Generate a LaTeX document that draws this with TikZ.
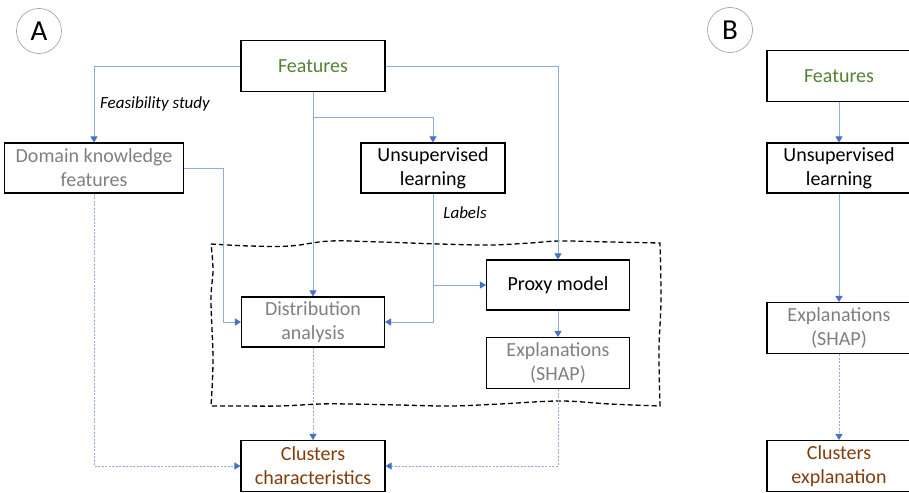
\documentclass[tikz,border=0pt]{standalone}
\usepackage{fontspec}
\setmainfont{Carlito}
\usetikzlibrary{arrows.meta}
\definecolor{lineblue}{RGB}{143,170,220}
\definecolor{tipblue}{RGB}{68,114,196}
\definecolor{featgreen}{RGB}{84,130,53}
\definecolor{txtgray}{RGB}{128,128,128}
\definecolor{clbrown}{RGB}{132,60,12}
\begin{document}
\begin{tikzpicture}[x=1pt,y=-1pt,
  box/.style={draw=black,line width=1.1pt,minimum width=144pt,minimum height=51pt,inner sep=0pt,align=center,font=\fontsize{20}{24}\selectfont},
  conn/.style={draw=lineblue,line width=0.9pt,-{Triangle[width=7pt,length=6pt,color=tipblue]}},
  dconn/.style={conn,dash pattern=on 2pt off 1.5pt},
  lbl/.style={font=\fontsize{17}{20}\selectfont\itshape,inner sep=0pt},
  circ/.style={draw=black!40,line width=0.6pt,circle,minimum size=45pt,inner sep=0pt,font=\fontsize{29}{30}\selectfont},
  wavy/.style={draw=black,line width=1.3pt,dash pattern=on 5pt off 3pt}]
\clip (0,0) rectangle (909,492);
\fill[white] (0,0) rectangle (909,492);

% Panel A
\node[circ] (cA) at (39,31) {A};
\node[box] (featA) at (313,66) {\color{featgreen}Features};
\node[box,minimum width=179pt,minimum height=50pt] (dom) at (94,168) {\color{txtgray}Domain knowledge\\\color{txtgray}features};
\node[box,minimum height=50pt] (unsA) at (433,168) {Unsupervised\\learning};
\node[box,minimum width=143pt,minimum height=50pt] (dist) at (313,322) {\color{txtgray}Distribution\\\color{txtgray}analysis};
\node[box,minimum width=143pt,minimum height=50pt] (proxy) at (558,285) {Proxy model};
\node[box,minimum width=143pt] (expA) at (558,363) {\color{txtgray}Explanations\\\color{txtgray}(SHAP)};
\node[box] (clA) at (313,466) {\color{clbrown}Clusters\\\color{clbrown}characteristics};

\draw[wavy] plot[smooth,tension=0.6] coordinates {(211,244) (250,246) (290,246) (330,241) (380,242) (440,244) (490,245) (530,243) (560,241) (610,242) (660,243)}
  -- plot[smooth,tension=0.6] coordinates {(660,243) (661,300) (659,350) (660,406)}
  -- plot[smooth,tension=0.6] coordinates {(660,406) (610,404) (560,401) (500,404) (450,406) (400,405) (350,404) (320,404) (280,406) (240,406) (211,406)}
  -- plot[smooth,tension=0.6] coordinates {(211,406) (213,360) (211,300) (213,270) (211,244)};

\coordinate (split) at (313,117);
\coordinate (lab) at (433,285);
\draw[conn] (featA.west) -| (dom.north);
\node[lbl] (feas) at (155,104) {Feasibility study};
\draw[conn] (featA.east) -| (proxy.north);
\draw[conn] (featA.south) -- (dist.north);
\draw[conn] (split) -| (unsA.north);
\draw[conn] (dom.east) -| (223,322) -- (dist.west);
\draw[conn] (unsA.south) |- (dist.east);
\node[lbl] (labels) at (465,213) {Labels};
\draw[conn] (lab) -- (proxy.west);
\draw[conn] (proxy.south) -- (expA.north);
\draw[dconn] (dist.south) -- (clA.north);
\draw[dconn] (dom.south) |- (clA.west);
\draw[dconn] (expA.south) |- (clA.east);

% Panel B
\node[circ] (cB) at (730,30) {B};
\node[box] (featB) at (839,76) {\color{featgreen}Features};
\node[box,minimum height=50pt] (unsB) at (839,168) {Unsupervised\\learning};
\node[box] (expB) at (839,328) {\color{txtgray}Explanations\\\color{txtgray}(SHAP)};
\node[box] (clB) at (839,466) {\color{clbrown}Clusters\\\color{clbrown}explanation};
\draw[conn] (featB.south) -- (unsB.north);
\draw[conn] (unsB.south) -- (expB.north);
\draw[dconn] (expB.south) -- (clB.north);
\end{tikzpicture}
\end{document}
